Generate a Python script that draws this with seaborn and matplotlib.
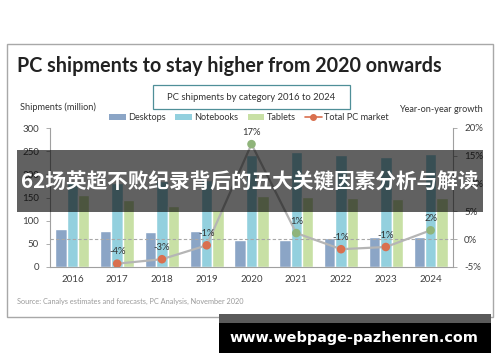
import matplotlib
matplotlib.use("Agg")
import matplotlib.pyplot as plt
import numpy as np
import pandas as pd
import seaborn as sns
from matplotlib.patches import Rectangle, Patch
from matplotlib.lines import Line2D

# ---------------- data ----------------
years = ["2016", "2017", "2018", "2019", "2020", "2021", "2022", "2023", "2024"]
desktops = [82, 78, 75, 78, 59, 59, 63, 65, 65]
notebooks = [184, 182, 186, 188, 241, 248, 242, 238, 243]
tablets = [155, 144, 131, 122, 154, 152, 149, 146, 149]
growth = [np.nan, -4.4, -3.6, -1.1, 17.1, 1.1, -1.8, -1.4, 1.6]
growth_labels = ["", "-4%", "-3%", "-1%", "17%", "1%", "-1%", "-1%", "2%"]
categories = ["Desktops", "Notebooks", "Tablets"]
left_ticks = [0, 50, 100, 150, 200, 250, 300]
right_ticks = [-5, 0, 5, 10, 15, 20]

title = "PC shipments to stay higher from 2020 onwards"
subtitle = "PC shipments by category 2016 to 2024"
source = "Source: Canalys estimates and forecasts, PC Analysis, November 2020"
banner = "62场英超不败纪录背后的五大关键因素分析与解读"
watermark = "www.webpage-pazhenren.com"

# ---------------- style ----------------
bar_colors = {"Desktops": "#8ba5c6", "Notebooks": "#93d0de", "Tablets": "#c8e0a5"}
line_color = "#b5b5b5"
neg_color = "#d9704f"
pos_color = "#8fb47a"
text_color = "#404040"
axis_color = "#a0a0a0"

sns.set_theme(style="white")
plt.rcParams["font.family"] = ["Lato", "Noto Sans CJK SC", "DejaVu Sans"]

W, H = 500, 362
fig = plt.figure(figsize=(W / 100, H / 100), dpi=100)
fig.patch.set_facecolor("white")


def fx(px):
    return px / W


def fy(py):
    return 1 - py / H


# outer frame
fig.add_artist(Rectangle((fx(7), fy(317)), fx(493) - fx(7), fy(44) - fy(317),
                         transform=fig.transFigure, fill=False, ec="#a8a8a8", lw=1.0, zorder=0))

# main axes
x0, x1, ytop, ybot = 50, 453, 128, 267
ax = fig.add_axes([fx(x0), fy(ybot), fx(x1) - fx(x0), (ybot - ytop) / H])
ax.set_facecolor("none")

df = pd.DataFrame({
    "year": years * 3,
    "category": sum([[c] * len(years) for c in categories], []),
    "shipments": desktops + notebooks + tablets,
})
sns.barplot(data=df, x="year", y="shipments", hue="category", hue_order=categories,
            palette=bar_colors, width=0.76, saturation=1, ax=ax, legend=False,
            errorbar=None)
ax.set_xlim(-0.5, len(years) - 0.5)
ax.set_ylim(0, 300)
ax.set_yticks(left_ticks)
ax.set_xlabel("")
ax.set_ylabel("")
for s in ["top", "right"]:
    ax.spines[s].set_visible(False)
for s in ["left", "bottom"]:
    ax.spines[s].set_color(axis_color)
    ax.spines[s].set_linewidth(0.8)
ax.tick_params(axis="y", direction="out", length=3, width=0.6, color=axis_color,
               labelsize=7, labelcolor=text_color, pad=5, left=True)
ax.tick_params(axis="x", length=0, labelsize=7, labelcolor=text_color, pad=6)

# secondary axis for growth
ax2 = ax.twinx()
ax2.set_ylim(-5, 20)
ax2.set_yticks(right_ticks)
ax2.set_yticklabels([f"{t}%" for t in right_ticks])
for s in ["top", "left", "bottom"]:
    ax2.spines[s].set_visible(False)
ax2.spines["right"].set_color(axis_color)
ax2.spines["right"].set_linewidth(0.8)
ax2.tick_params(axis="y", direction="out", length=3, width=0.6, color=axis_color,
                labelsize=7, labelcolor=text_color, pad=5, right=True)
ax2.axhline(0, color="#a8a8a8", lw=0.8, ls=(0, (3, 2)), zorder=1)

idx = np.arange(len(years))
gdf = pd.DataFrame({"pos": idx, "growth": growth, "label": growth_labels})
gdf = gdf.dropna()
gdf["sign"] = np.where(gdf["growth"] < 0, "neg", "pos")
sns.lineplot(data=gdf, x="pos", y="growth", color=line_color, lw=1.6, ax=ax2, zorder=2)
sns.scatterplot(data=gdf, x="pos", y="growth", hue="sign",
                palette={"neg": neg_color, "pos": pos_color}, s=38, linewidth=0,
                ax=ax2, legend=False, zorder=3)
for _, r in gdf.iterrows():
    ax2.annotate(r["label"], (r["pos"], r["growth"]), xytext=(0, 8.5),
                 textcoords="offset points", ha="center", va="center",
                 fontsize=6.8, color="#333333")
ax2.set_xlabel("")
ax2.set_ylabel("")
ax2.set_xlim(-0.5, len(years) - 0.5)

# titles and labels
fig.text(fx(17), fy(66), title, fontsize=14.2, weight="bold", color="#222222", va="center")
fig.add_artist(Rectangle((fx(153), fy(109)), fx(350) - fx(153), fy(85) - fy(109),
                         transform=fig.transFigure, fill=True, fc="white", ec="#4f8f98", lw=0.9))
fig.text(fx(251), fy(97), subtitle, fontsize=6.8, color="#333333", ha="center", va="center")
fig.text(fx(20), fy(107), "Shipments (million)", fontsize=6.6, color="#333333", va="center")
fig.text(fx(483), fy(109), "Year-on-year growth", fontsize=6.6, color="#333333",
         va="center", ha="right")
fig.text(fx(17), fy(301), source, fontsize=5.3, color="#9a9a9a", va="center")

handles = [Patch(fc=bar_colors[c], ec="none") for c in categories]
handles.append(Line2D([0], [0], color=neg_color, lw=1.2, marker="o", markersize=4))
fig.legend(handles, categories + ["Total PC market"], loc="center",
           bbox_to_anchor=(fx(249), fy(118)), ncol=4, frameon=False, fontsize=6.6,
           handlelength=1.8, handleheight=0.6, columnspacing=1.0, handletextpad=0.3,
           labelcolor="#333333")

# overlay banner
fig.add_artist(Rectangle((fx(17), fy(212)), fx(483) - fx(17), fy(150) - fy(212),
                         transform=fig.transFigure, fc="black", alpha=0.62, ec="none", zorder=20))
fig.text(fx(250), fy(182), banner, fontsize=14.9, weight="bold", color="white",
         ha="center", va="center", zorder=21,
         family=["Noto Sans CJK SC", "DejaVu Sans"])

# watermark
fig.add_artist(Rectangle((fx(219), fy(323)), fx(491) - fx(219), fy(314) - fy(323),
                         transform=fig.transFigure, fc="#5a5a5a", ec="none", zorder=20))
fig.add_artist(Rectangle((fx(219), fy(353)), fx(491) - fx(219), fy(323) - fy(353),
                         transform=fig.transFigure, fc="black", ec="none", zorder=20))
fig.text(fx(354), fy(338), watermark, fontsize=10.4, weight="bold", color="white",
         ha="center", va="center", zorder=21, family=["DejaVu Sans"])

fig.savefig("out.png", dpi=100)
